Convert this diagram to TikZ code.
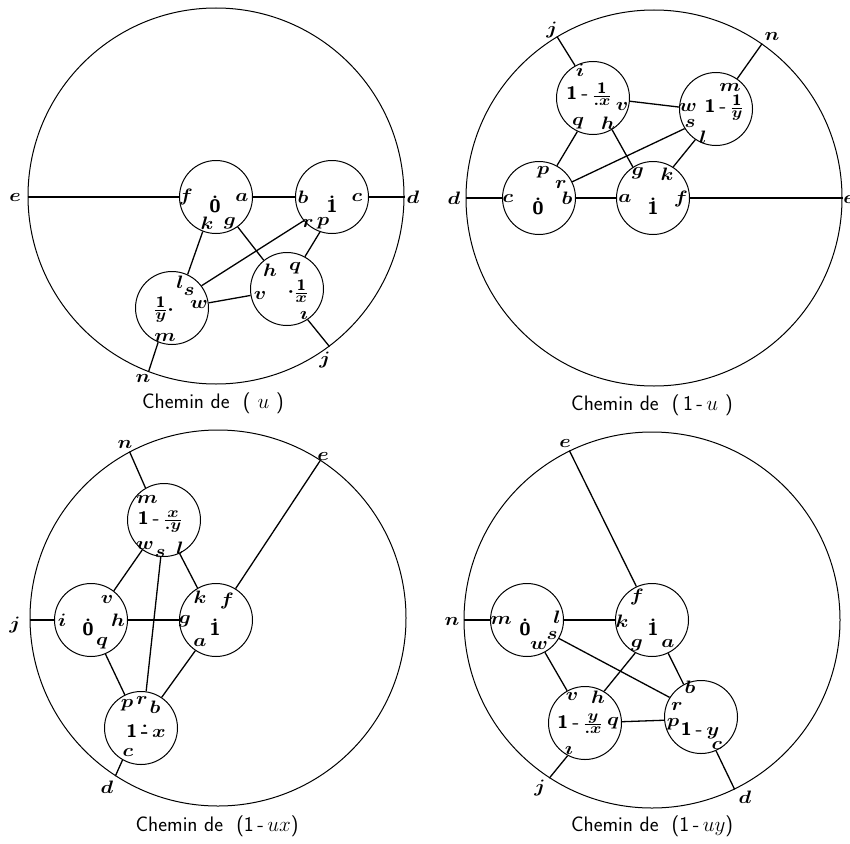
\RequirePackage{fix-cm}
\documentclass[tikz,border=0pt]{standalone}
\usepackage{amsmath}
\newcommand\Lbl[4]{\node[lb] (#1) at (#2,#3) {\scalebox{1.15}[1]{#4}};}
\newcommand\Capt[4]{\node[capt] (#1) at (#2,#3) {#4};}
\newcommand\Pz{$\dot{\mathsf{0}}$}
\newcommand\Po{$\dot{\mathsf{1}}$}
\newcommand\Fr[2]{{\fontsize{15}{17}\selectfont$\frac{\textstyle #1}{\textstyle #2}$}}
\begin{document}
\begin{tikzpicture}[x=1pt,y=-1pt,
  big/.style={circle,draw,line width=1pt,minimum size=376pt,inner sep=0pt},
  sm/.style={circle,draw,line width=1pt,minimum size=73pt,inner sep=0pt},
  cn/.style={line width=1.3pt},
  lb/.style={inner sep=0pt,font=\fontsize{18}{20}\selectfont\boldmath},
  capt/.style={inner sep=0pt,font=\fontsize{21}{23}\selectfont\sffamily}]
\useasboundingbox (0,0) rectangle (850,843);

% ---------------- Panel 1 : Chemin de (u)
\node[big] (B1) at (216,196) {};
\node[sm] (P1a) at (216,197) {};
\node[sm] (P1b) at (332,197) {};
\node[sm] (P1y) at (172,308) {};
\node[sm] (P1x) at (287,289) {};
\draw[cn] (B1.180 |- P1a) -- (P1a.180);
\draw[cn] (P1a.0) -- (P1b.180);
\draw[cn] (P1b.0) -- (B1.0 |- P1b);
\draw[cn] (P1a.-111) -- (P1y.65);
\draw[cn] (P1a.-54) -- (P1x.129);
\draw[cn] (P1b.-140) -- (P1y.37);
\draw[cn] (P1b.-109) -- (P1x.61);
\draw[cn] (P1y.8) -- (P1x.-170);
\draw[cn] (P1x.-56) -- (B1.-53);
\draw[cn] (P1y.-112) -- (B1.-111);
\Lbl{l1e}{15}{197}{$e$}
\Lbl{l1d}{413}{197}{$d$}
\Lbl{l1f}{186}{197}{$f$}
\Lbl{l1z}{215}{204}{\Pz}
\Lbl{l1a}{242}{197}{$a$}
\Lbl{l1k}{207}{223}{$k$}
\Lbl{l1g}{230}{223}{$g$}
\Lbl{l1b}{303}{197}{$b$}
\Lbl{l1o}{332}{204}{\Po}
\Lbl{l1c}{357}{197}{$c$}
\Lbl{l1r}{308}{223}{$r$}
\Lbl{l1p}{323}{223}{$p$}
\Lbl{l1h}{270}{270}{$h$}
\Lbl{l1q}{295}{268}{$q$}
\Lbl{l1v}{260}{295}{$v$}
\Lbl{l1X}{298}{291}{$\cdot$\Fr{\mathsf{1}}{x}}
\Lbl{l1i}{304}{315}{$\imath$}
\Lbl{l1l}{180}{282}{$l$}
\Lbl{l1s}{189}{291}{$s$}
\Lbl{l1w}{199}{304}{$w$}
\Lbl{l1Y}{164}{310}{\Fr{\mathsf{1}}{y}$\cdot$}
\Lbl{l1m}{165}{337}{$m$}
\Lbl{l1n}{143}{378}{$n$}
\Lbl{l1j}{325}{360}{$j$}
\Capt{c1}{213}{403}{Chemin de\ \ (\,\,$u$\,\,)}

% ---------------- Panel 2 : Chemin de (1-u)
\node[big] (B2) at (654,198) {};
\node[sm] (P2x) at (593,98) {};
\node[sm] (P2y) at (716,109) {};
\node[sm] (P2a) at (539,198) {};
\node[sm] (P2b) at (653,198) {};
\draw[cn] (B2.180 |- P2a) -- (P2a.180);
\draw[cn] (P2a.0) -- (P2b.180);
\draw[cn] (P2b.0) -- (B2.0 |- P2b);
\draw[cn] (B2.121) -- (P2x.119);
\draw[cn] (B2.55) -- (P2y.55);
\draw[cn] (P2x.-5) -- (P2y.177);
\draw[cn] (P2x.-115) -- (P2a.61);
\draw[cn] (P2x.-59) -- (P2b.123);
\draw[cn] (P2y.-148) -- (P2a.26);
\draw[cn] (P2y.-124) -- (P2b.57);
\Lbl{l2j}{552}{30}{$j$}
\Lbl{l2n}{772}{37}{$n$}
\Lbl{l2i}{580}{70}{$i$}
\Lbl{l2X}{589}{94}{\textsf{\bfseries 1\,-}\,\Fr{\mathsf{1}}{{.}x}}
\Lbl{l2v}{622}{106}{$v$}
\Lbl{l2q}{578}{123}{$q$}
\Lbl{l2h}{608}{123}{$h$}
\Lbl{l2m}{730}{87}{$m$}
\Lbl{l2w}{688}{107}{$w$}
\Lbl{l2Y}{724}{108}{\textsf{\bfseries 1\,-}\,\Fr{\mathsf{1}}{y}}
\Lbl{l2s}{690}{123}{$s$}
\Lbl{l2l}{703}{137}{$l$}
\Lbl{l2p}{543}{172}{$p$}
\Lbl{l2r}{561}{184}{$r$}
\Lbl{l2b}{567}{198}{$b$}
\Lbl{l2c}{508}{198}{$c$}
\Lbl{l2z}{538}{206}{\Pz}
\Lbl{l2d}{454}{198}{$d$}
\Lbl{l2a}{625}{198}{$a$}
\Lbl{l2g}{638}{173}{$g$}
\Lbl{l2k}{667}{174}{$k$}
\Lbl{l2o}{653}{206}{\Po}
\Lbl{l2f}{681}{199}{$f$}
\Lbl{l2e}{849}{199}{$e$}
\Capt{c2}{652}{405}{Chemin de\ \ (\,1\,-\,$u$\,\,)}

% ---------------- Panel 3 : Chemin de (1-ux)
\node[big] (B3) at (218,618) {};
\node[sm] (P3m) at (164,520) {};
\node[sm] (P3a) at (91,620) {};
\node[sm] (P3b) at (216,620) {};
\node[sm] (P3x) at (141,728) {};
\draw[cn] (B3.180 |- P3a) -- (P3a.180);
\draw[cn] (P3a.0) -- (P3b.180);
\draw[cn] (B3.118) -- (P3m.120);
\draw[cn] (B3.57) -- (P3b.58);
\draw[cn] (P3m.-126) -- (P3a.52);
\draw[cn] (P3m.-95) -- (P3x.82);
\draw[cn] (P3m.-65) -- (P3b.120);
\draw[cn] (P3a.-67) -- (P3x.116);
\draw[cn] (P3b.-124) -- (P3x.56);
\draw[cn] (P3x.-120) -- (B3.-123);
\Lbl{l3n}{125}{444}{$n$}
\Lbl{l3e}{323}{456}{$e$}
\Lbl{l3m}{147}{499}{$m$}
\Lbl{l3X}{160}{522}{\textsf{\bfseries 1\,-}\,\Fr{x}{{.}y}}
\Lbl{l3w}{145}{545}{$w$}
\Lbl{l3s}{160}{553}{$s$}
\Lbl{l3l}{180}{548}{$l$}
\Lbl{l3v}{107}{599}{$v$}
\Lbl{l3k}{200}{597}{$k$}
\Lbl{l3f}{227}{601}{$f$}
\Lbl{l3j}{15}{625}{$j$}
\Lbl{l3i}{62}{620}{$i$}
\Lbl{l3z}{88}{627}{\Pz}
\Lbl{l3h}{118}{620}{$h$}
\Lbl{l3g}{185}{621}{$g$}
\Lbl{l3o}{215}{627}{\Po}
\Lbl{l3q}{102}{643}{$q$}
\Lbl{l3a}{200}{642}{$a$}
\Lbl{l3p}{127}{705}{$p$}
\Lbl{l3r}{142}{700}{$r$}
\Lbl{l3b}{155}{707}{$b$}
\Lbl{l3X2}{146}{731}{\textsf{\bfseries 1}\,$\dot{\text{\bfseries -}}$\,$x$}
\Lbl{l3c}{128}{752}{$c$}
\Lbl{l3d}{107}{787}{$d$}
\Capt{c3}{217}{826}{Chemin de\ \ (1\,-\,$ux$)}

% ---------------- Panel 4 : Chemin de (1-uy)
\node[big] (B4) at (652,620) {};
\node[sm] (P4a) at (527,620) {};
\node[sm] (P4b) at (652,620) {};
\node[sm] (P4x) at (585,723) {};
\node[sm] (P4y) at (701,717) {};
\draw[cn] (B4.180 |- P4a) -- (P4a.180);
\draw[cn] (P4a.0) -- (P4b.180);
\draw[cn] (B4.116) -- (P4b.115);
\draw[cn] (P4a.-30) -- (P4y.148);
\draw[cn] (P4a.-61) -- (P4x.119);
\draw[cn] (P4b.-117) -- (P4x.59);
\draw[cn] (P4b.-64) -- (P4y.118);
\draw[cn] (P4x.2) -- (P4y.-175);
\draw[cn] (P4x.-118) -- (B4.-123);
\draw[cn] (P4y.-66) -- (B4.-64);
\Lbl{l4e}{565}{443}{$e$}
\Lbl{l4n}{452}{621}{$n$}
\Lbl{l4m}{501}{620}{$m$}
\Lbl{l4z}{525}{627}{\Pz}
\Lbl{l4l}{557}{617}{$l$}
\Lbl{l4s}{552}{635}{$s$}
\Lbl{l4w}{539}{645}{$w$}
\Lbl{l4f}{637}{597}{$f$}
\Lbl{l4k}{622}{621}{$k$}
\Lbl{l4o}{653}{627}{\Po}
\Lbl{l4g}{637}{645}{$g$}
\Lbl{l4a}{668}{643}{$a$}
\Lbl{l4v}{572}{696}{$v$}
\Lbl{l4h}{598}{697}{$h$}
\Lbl{l4X}{580}{724}{\textsf{\bfseries 1\,-}\,\Fr{y}{{.}x}}
\Lbl{l4q}{613}{723}{$q$}
\Lbl{l4i}{569}{750}{$\imath$}
\Lbl{l4b}{690}{687}{$b$}
\Lbl{l4r}{677}{706}{$r$}
\Lbl{l4p}{673}{724}{$p$}
\Lbl{l4Y}{700}{731}{\textsf{\bfseries 1\,-}\,$y$}
\Lbl{l4c}{717}{745}{$c$}
\Lbl{l4j}{540}{788}{$j$}
\Lbl{l4d}{745}{797}{$d$}
\Capt{c4}{652}{826}{Chemin de\ \ (1\,-\,$uy$)}
\end{tikzpicture}
\end{document}
